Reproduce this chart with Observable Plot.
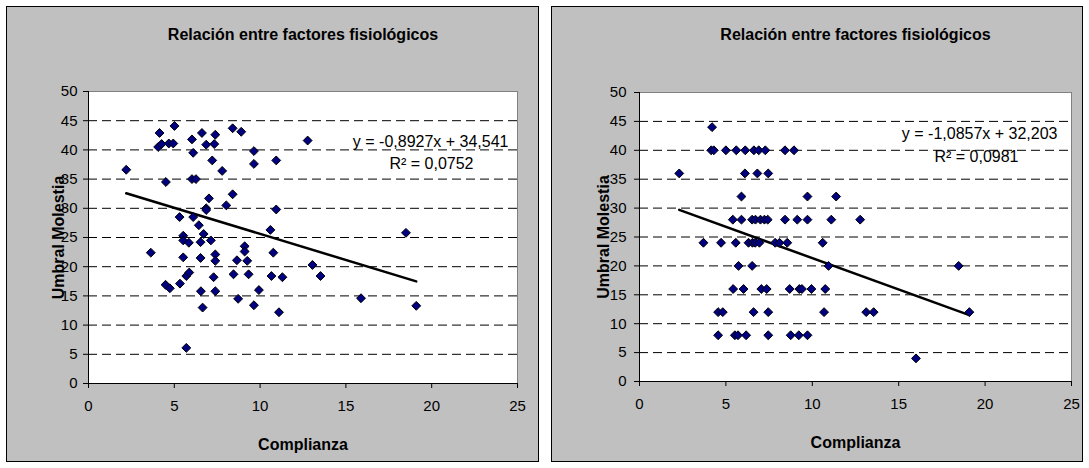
<!DOCTYPE html>
<html><head><meta charset="utf-8">
<script src="https://cdn.jsdelivr.net/npm/d3@7"></script>
<script src="https://cdn.jsdelivr.net/npm/@observablehq/plot@0.6"></script>
<style>
body{margin:0;background:#fff;width:1089px;height:468px;position:relative;overflow:hidden;font-family:"Liberation Sans",Arial,sans-serif;}
.panel{position:absolute;top:6px;border:1px solid #000;background:#c0c0c0;}
.panel svg{display:block}
</style></head><body>
<div id="p1" class="panel" style="left:6px"></div>
<div id="p2" class="panel" style="left:551px"></div>
<script>
const title = "Relación entre factores fisiológicos";
const xLabel = "Complianza";
const yLabel = "Umbral Molestia";
const xTicks = [0, 5, 10, 15, 20, 25];
const yTicks = [0, 5, 10, 15, 20, 25, 30, 35, 40, 45, 50];
const gridTicks = [5, 10, 15, 20, 25, 30, 35, 40, 45];

// Left chart
const leftX = [2.2,3.63,4.06,4.14,4.26,4.51,4.49,4.68,4.74,4.94,5.01,5.31,5.33,5.52,5.52,5.52,5.7,5.7,5.85,5.87,6.03,6.03,6.1,6.1,6.26,6.43,6.53,6.53,6.55,6.61,6.65,6.71,6.86,6.86,6.86,7.02,7.13,7.21,7.29,7.33,7.39,7.39,7.39,7.39,7.79,8.03,8.4,8.4,8.45,8.65,8.72,8.9,9.1,9.1,9.25,9.33,9.64,9.64,9.64,9.93,10.6,10.66,10.77,10.94,10.94,11.1,11.3,12.77,13.05,13.52,15.88,18.5,19.1];
const leftY = [36.6,22.4,40.5,42.9,41.0,34.5,16.9,41.1,16.3,41.1,44.1,28.5,17.1,25.3,24.5,21.6,18.4,6.1,24.1,19.0,41.8,35.0,39.5,28.5,35.0,27.1,24.2,21.5,15.8,42.9,13.0,25.6,40.9,30.0,29.7,31.7,24.5,38.2,18.2,41.0,42.6,22.1,21.0,15.8,36.4,30.5,43.7,32.4,18.7,21.1,14.5,43.1,23.5,22.6,21.0,18.7,39.8,37.6,13.4,16.0,26.3,18.4,22.4,38.2,29.8,12.2,18.2,41.6,20.3,18.4,14.6,25.8,13.3];
const leftSlope = -0.8927, leftIntercept = 34.541;
const leftEq = "y = -0,8927x + 34,541";
const leftR2 = "R² = 0,0752";

// Right chart
const rightX = [4.2,
  4.15,4.3,5.0,5.6,6.12,6.62,6.9,7.28,8.42,8.94,
  2.3,6.1,6.82,7.45,
  5.9,9.72,11.38,
  5.4,5.9,6.52,6.71,7.0,7.23,7.42,8.42,9.13,9.72,11.1,12.77,
  3.7,4.72,5.57,6.31,6.54,6.7,6.94,7.85,8.1,8.55,10.6,
  5.73,6.52,10.94,18.47,
  5.42,6.02,7.05,7.36,8.69,9.25,9.4,9.95,10.75,
  4.55,4.82,6.6,7.45,10.68,13.12,13.55,19.09,
  4.55,5.52,5.7,6.17,7.45,8.75,9.22,9.72,
  16.0];
const rightY = [44,
  40,40,40,40,40,40,40,40,40,40,
  36,36,36,36,
  32,32,32,
  28,28,28,28,28,28,28,28,28,28,28,28,
  24,24,24,24,24,24,24,24,24,24,24,
  20,20,20,20,
  16,16,16,16,16,16,16,16,16,
  12,12,12,12,12,12,12,12,
  8,8,8,8,8,8,8,8,
  4];
const rightSlope = -1.0857, rightIntercept = 32.203;
const rightEq = "y = -1,0857x + 32,203";
const rightR2 = "R² = 0,0981";

function chart(cfg) {
  const data = cfg.xs.map((x, i) => ({x, y: cfg.ys[i]}));
  const [x0, x1] = d3.extent(cfg.xs);
  const trend = [x0, x1].map(x => ({x, y: cfg.slope * x + cfg.intercept}));
  return Plot.plot({
    width: cfg.width, height: 454,
    marginLeft: cfg.ml, marginRight: cfg.mr, marginTop: cfg.mt, marginBottom: cfg.mb,
    style: {background: "transparent", fontFamily: "'Liberation Sans', Arial, sans-serif", fontSize: "15px", color: "#000", overflow: "visible"},
    x: {domain: [0, 25]},
    y: {domain: [0, 50]},
    marks: [
      Plot.frame({fill: "white", stroke: "#808080"}),
      Plot.gridY(gridTicks, {stroke: "#000", strokeOpacity: 1, strokeDasharray: "9,5"}),
      Plot.ruleX([0], {stroke: "#000"}),
      Plot.ruleY([0], {stroke: "#000"}),
      Plot.axisY(yTicks, {tickSize: 5, tickPadding: cfg.yPad, label: null, fontSize: 15, tickFormat: d => String(d)}),
      Plot.axisX(xTicks, {tickSize: 5, tickPadding: 12, label: null, fontSize: 15, tickFormat: d => String(d)}),
      Plot.line(trend, {x: "x", y: "y", stroke: "#000", strokeWidth: 2.5}),
      Plot.dot(data, {x: "x", y: "y", symbol: "diamond2", r: 4, fill: "#000080", stroke: "#000", strokeWidth: 1}),
      Plot.text([title], {text: d => d, frameAnchor: "top", lineAnchor: "middle", dy: cfg.titleDy, fontWeight: "bold", fontSize: 16}),
      Plot.text([xLabel], {text: d => d, frameAnchor: "bottom", lineAnchor: "middle", dy: 61, fontWeight: "bold", fontSize: 16}),
      Plot.text([yLabel], {text: d => d, frameAnchor: "left", textAnchor: "middle", lineAnchor: "middle", dx: cfg.yLabDx, rotate: -90, fontWeight: "bold", fontSize: 16}),
      Plot.text([cfg.eq], {text: d => d, frameAnchor: "top-right", textAnchor: "end", lineAnchor: "middle", dx: cfg.eqDx, dy: cfg.eqDy, fontSize: 16}),
      Plot.text([cfg.r2], {text: d => d, frameAnchor: "top-right", textAnchor: "end", lineAnchor: "middle", dx: cfg.r2Dx, dy: cfg.r2Dy, fontSize: 16})
    ]
  });
}

document.getElementById("p1").append(chart({
  xs: leftX, ys: leftY, slope: leftSlope, intercept: leftIntercept, eq: leftEq, r2: leftR2,
  width: 531, ml: 81, mr: 21, mt: 84, mb: 78, titleDy: -57, yPad: 6, yLabDx: -30,
  eqDx: -9, eqDy: 50, r2Dx: -44, r2Dy: 72
}));
document.getElementById("p2").append(chart({
  xs: rightX, ys: rightY, slope: rightSlope, intercept: rightIntercept, eq: rightEq, r2: rightR2,
  width: 530, ml: 87, mr: 11, mt: 85, mb: 80, titleDy: -58, yPad: 8, yLabDx: -36,
  eqDx: -14, eqDy: 41, r2Dx: -53, r2Dy: 64
}));
</script>
</body></html>
